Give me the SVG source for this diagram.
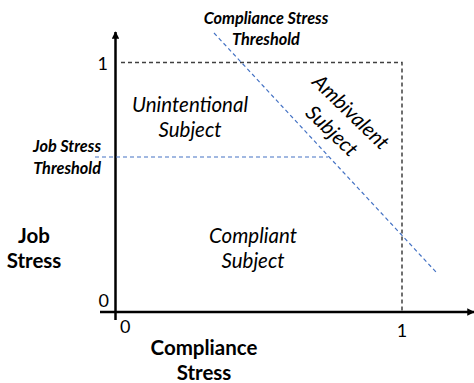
<svg xmlns="http://www.w3.org/2000/svg" width="474" height="383" viewBox="0 0 474 383">
  <style>
    text { font-family: Lato, "Open Sans", "Liberation Sans", sans-serif; fill: #000; }
    .axis { stroke: #000; stroke-width: 2.5; fill: none; }
    .bound { stroke: #404040; stroke-width: 1.5; stroke-dasharray: 4 3; fill: none; }
    .thresh { stroke: #4472C4; stroke-width: 1.2; stroke-dasharray: 4 3; fill: none; }
    .region { font-size: 20.5px; font-style: italic; text-anchor: middle; }
    .tlabel { font-size: 16.3px; font-style: italic; font-weight: bold; }
    .alabel { font-size: 20.5px; font-weight: bold; text-anchor: middle; }
    .tick { font-size: 18px; }
  </style>
  <defs>
    <marker id="arrow" viewBox="0 0 10 10" refX="9" refY="5" markerWidth="3.2" markerHeight="3" orient="auto" markerUnits="strokeWidth">
      <path d="M0,0 L10,5 L0,10 z" fill="#000"/>
    </marker>
  </defs>

  <g id="connectors">
    <!-- axes -->
    <line class="axis" x1="115.5" y1="320" x2="115.5" y2="32" marker-end="url(#arrow)"/>
    <line class="axis" x1="100" y1="312" x2="474" y2="312" marker-end="url(#arrow)"/>
    <!-- unit square boundary -->
    <polyline class="bound" points="121,62.5 402,62.5 402,311"/>
    <!-- thresholds -->
    <line class="thresh" x1="95" y1="157" x2="328" y2="157"/>
    <line class="thresh" x1="214" y1="33" x2="436" y2="272"/>
  </g>

  <g id="ticks">
    <text class="tick" x="108" y="70" text-anchor="end">1</text>
    <text class="tick" x="109" y="307" text-anchor="end">0</text>
    <text class="tick" x="120" y="333">0</text>
    <text class="tick" x="402" y="337" text-anchor="middle">1</text>
  </g>

  <g id="compliance-threshold-label">
    <text class="tlabel" x="266" y="24" text-anchor="middle">Compliance Stress</text>
    <text class="tlabel" x="266" y="45" text-anchor="middle">Threshold</text>
  </g>

  <g id="job-threshold-label">
    <text class="tlabel" x="101" y="152" text-anchor="end">Job Stress</text>
    <text class="tlabel" x="101" y="174" text-anchor="end">Threshold</text>
  </g>

  <g id="job-stress-axis-label">
    <text class="alabel" x="34" y="243">Job</text>
    <text class="alabel" x="34" y="268">Stress</text>
  </g>

  <g id="compliance-stress-axis-label">
    <text class="alabel" x="204" y="355">Compliance</text>
    <text class="alabel" x="204" y="380">Stress</text>
  </g>

  <g id="unintentional">
    <text class="region" x="190" y="112">Unintentional</text>
    <text class="region" x="190" y="137">Subject</text>
  </g>

  <g id="compliant">
    <text class="region" x="253" y="243">Compliant</text>
    <text class="region" x="253" y="268">Subject</text>
  </g>

  <g id="ambivalent">
    <text class="region" transform="translate(346,117) rotate(44)">Ambivalent</text>
    <text class="region" transform="translate(327,136) rotate(44)">Subject</text>
  </g>
</svg>
